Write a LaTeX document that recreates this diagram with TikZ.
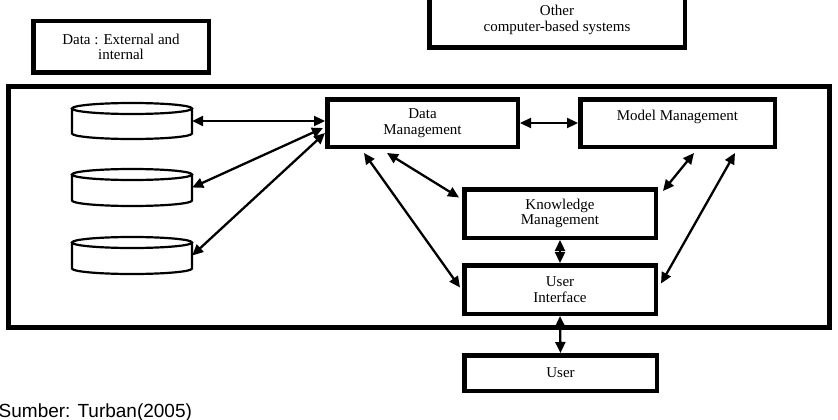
\documentclass[tikz,border=0pt]{standalone}
\usepackage{fontspec}
\setmainfont{Liberation Serif}
\newfontfamily\capfont{Liberation Sans}
\usetikzlibrary{arrows.meta,calc}
\begin{document}
\begin{tikzpicture}[x=1pt,y=-1pt,
  box/.style={draw, line width=4.5pt, inner sep=0pt, align=center,
    font=\fontsize{15pt}{15.5pt}\selectfont},
  cylnode/.style={draw=none, minimum width=120pt, minimum height=38pt, inner sep=0pt},
  cyl/.style={line width=2.2pt},
  conn/.style={line width=2.3pt, {Triangle[length=11pt,width=10pt]}-{Triangle[length=11pt,width=10pt]}}]
\useasboundingbox (0,0) rectangle (838,420);
\clip (0,0) rectangle (838,420);

% boxes
\node[box, minimum width=175.5pt, minimum height=51.5pt] (data) at (121,47) {Data : External and\\internal};
\node[box, minimum width=255.5pt, minimum height=55.5pt] (other) at (557,20) {Other\\computer-based systems};

% frame
\draw[line width=5pt] (8.5,86.5) rectangle (829.5,327.5);

\node[box, minimum width=190.5pt, minimum height=47.5pt] (dm) at (422.5,123) {Data\\Management};
\node[box, minimum width=194.5pt, minimum height=47.5pt] (mm) at (677.5,123) {Model Management\\\mbox{}};
\node[box, minimum width=191.5pt, minimum height=48.5pt] (km) at (560,213.5) {Knowledge\\Management};
\node[box, minimum width=191.5pt, minimum height=48.5pt] (ui) at (560,289.5) {User\\Interface};
\node[box, minimum width=192.5pt, minimum height=35.5pt] (user) at (560.5,373) {User};

% cylinders
\node[cylnode] (c1) at (132,121) {};
\node[cylnode] (c2) at (132,187.5) {};
\node[cylnode] (c3) at (132,255.5) {};
\foreach \t/\b in {108.5/133.5, 174.5/200.5, 242.5/268.5}{
  \draw[cyl] (132,\t) ellipse[x radius=60pt, y radius=5.5pt];
  \draw[cyl] (72,\t) -- (72,\b) arc[start angle=180, end angle=360, x radius=60pt, y radius=5.5pt] -- (192,\t);
}

% connectors
\draw[conn] (c1.east) -- (c1.east -| dm.west);
\draw[conn] ($(dm.west)+(-2,5)$) -- (c2.east);
\draw[conn] ($(dm.west)+(0,10)$) -- (c3.east);
\draw[conn] (dm.east) -- (mm.west);
\draw[conn] ($(dm.south west)+(62,4)$) -- ($(km.west)+(-3,-16)$);
\draw[conn] ($(dm.south west)+(39,4)$) -- ($(ui.west)+(-2,-2)$);
\draw[conn] ($(mm.south west)+(116,4)$) -- ($(km.north east)+(5,4)$);
\draw[conn] ($(mm.south west)+(157,4)$) -- ($(ui.east)+(3,-6)$);
\draw[conn] (km.south) -- (ui.north);
\draw[conn] (ui.south) -- (user.north);

% caption
\node[anchor=base west, inner sep=0pt, font=\capfont\fontsize{19pt}{19pt}\selectfont] (cap) at (-1.5,417) {Sumber: Turban(2005)};
\end{tikzpicture}
\end{document}
